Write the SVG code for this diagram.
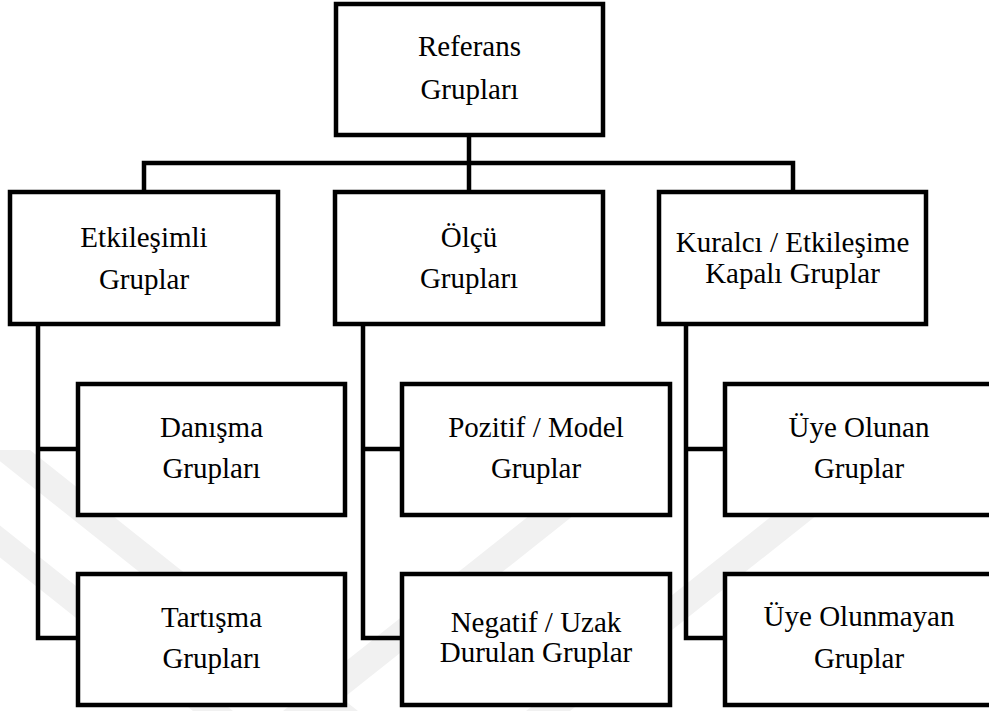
<svg xmlns="http://www.w3.org/2000/svg" width="989" height="711" viewBox="0 0 989 711">
  <style>
    .box { fill: #ffffff; stroke: #000000; stroke-width: 4.5; }
    .wire { fill: none; stroke: #000000; stroke-width: 4.5; stroke-linejoin: miter; }
    .lbl { font-family: 'Liberation Serif', 'DejaVu Serif', serif; font-size: 29px; fill: #000000; text-anchor: middle; }
    .mark { fill: #f1f1f1; }
  </style>

  <rect x="0" y="0" width="989" height="711" fill="#ffffff"/>

  <!-- faint background emblem stripes -->
  <g id="watermark">
    <polygon class="mark" points="-14,450 30,450 358,711 314,711"/>
    <polygon class="mark" points="-135,450 -95,450 233,711 193,711"/>
    <polygon class="mark" points="612,450 656,450 327,711 283,711"/>
    <polygon class="mark" points="855,450 899,450 570,711 526,711"/>
  </g>

  <g id="connectors">
    <path class="wire" d="M469 137 V190"/>
    <path class="wire" d="M144 190 V163 H793 V190"/>
    <path class="wire" d="M38 326 V638 H78 M38 449 H78"/>
    <path class="wire" d="M363 326 V638 H402 M363 449 H402"/>
    <path class="wire" d="M686 326 V638 H725 M686 449 H725"/>
  </g>

  <g id="referans">
    <rect class="box" x="336" y="4" width="267" height="131"/>
    <text class="lbl" x="469.5" y="56">Referans</text>
    <text class="lbl" x="469.5" y="99">Grupları</text>
  </g>

  <g id="etkilesimli">
    <rect class="box" x="10" y="192" width="268" height="132"/>
    <text class="lbl" x="144" y="247">Etkileşimli</text>
    <text class="lbl" x="144" y="289">Gruplar</text>
  </g>

  <g id="olcu">
    <rect class="box" x="335" y="192" width="268" height="132"/>
    <text class="lbl" x="469" y="247">Ölçü</text>
    <text class="lbl" x="469" y="288">Grupları</text>
  </g>

  <g id="kuralci">
    <rect class="box" x="659" y="192" width="267" height="132"/>
    <text class="lbl" x="792.5" y="252">Kuralcı / Etkileşime</text>
    <text class="lbl" x="792.5" y="283">Kapalı Gruplar</text>
  </g>

  <g id="danisma">
    <rect class="box" x="78" y="384" width="267" height="131"/>
    <text class="lbl" x="211.5" y="437">Danışma</text>
    <text class="lbl" x="211.5" y="478">Grupları</text>
  </g>

  <g id="tartisma">
    <rect class="box" x="78" y="574" width="267" height="131"/>
    <text class="lbl" x="211.5" y="627">Tartışma</text>
    <text class="lbl" x="211.5" y="668">Grupları</text>
  </g>

  <g id="pozitif">
    <rect class="box" x="402" y="384" width="268" height="131"/>
    <text class="lbl" x="536" y="437">Pozitif / Model</text>
    <text class="lbl" x="536" y="478">Gruplar</text>
  </g>

  <g id="negatif">
    <rect class="box" x="402" y="574" width="268" height="131"/>
    <text class="lbl" x="536" y="632">Negatif / Uzak</text>
    <text class="lbl" x="536" y="662">Durulan Gruplar</text>
  </g>

  <g id="uye-olunan">
    <rect class="box" x="725" y="384" width="267" height="131"/>
    <text class="lbl" x="859" y="437">Üye Olunan</text>
    <text class="lbl" x="859" y="478">Gruplar</text>
  </g>

  <g id="uye-olunmayan">
    <rect class="box" x="725" y="574" width="267" height="131"/>
    <text class="lbl" x="859" y="626">Üye Olunmayan</text>
    <text class="lbl" x="859" y="668">Gruplar</text>
  </g>
</svg>
